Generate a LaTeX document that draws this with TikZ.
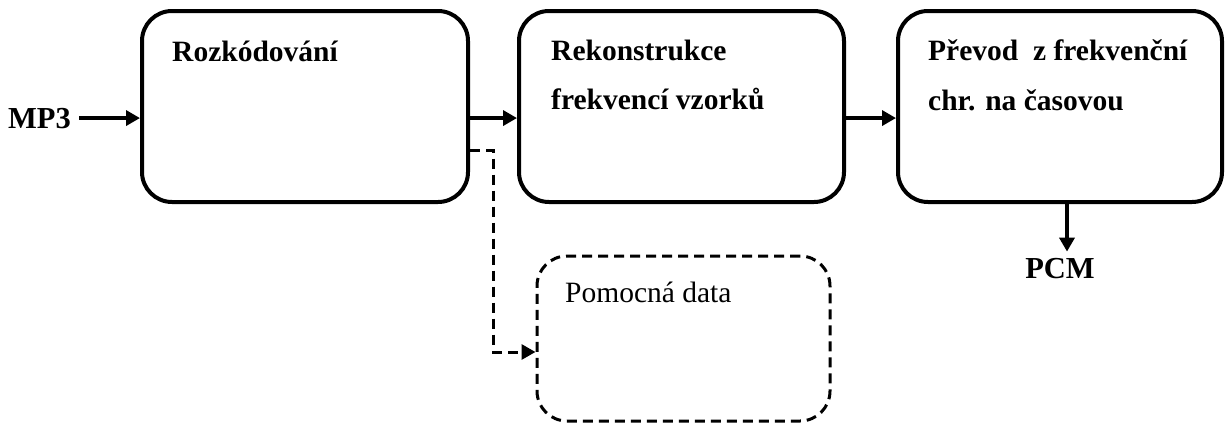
\documentclass[tikz,border=0pt]{standalone}
\usepackage{fontspec}
\setmainfont{Liberation Serif}
\usetikzlibrary{arrows.meta}
\begin{document}
\begin{tikzpicture}[x=1pt,y=-1pt,
  blockbox/.style={draw, line width=4pt, rounded corners=30pt, inner sep=0pt},
  auxbox/.style={draw, line width=3pt, rounded corners=30pt, inner sep=0pt, dash pattern=on 10pt off 6pt},
  txt/.style={anchor=base west, inner sep=0pt, font=\fontsize{29.5}{34}\selectfont\bfseries},
  txtr/.style={anchor=base west, inner sep=0pt, font=\fontsize{29.5}{34}\selectfont},
  iolabel/.style={inner sep=0pt, font=\fontsize{30.5}{34}\selectfont\bfseries},
  arr/.style={line width=3.6pt, -{Triangle[length=14pt,width=15pt]}},
  darr/.style={line width=3pt, dash pattern=on 10pt off 6pt, -{Triangle[length=14pt,width=15pt]}}
]
\useasboundingbox (0,0) rectangle (1226,423);
\node[blockbox, minimum width=326pt, minimum height=191pt] (b1) at (305,106.5) {};
\node[blockbox, minimum width=325pt, minimum height=191pt] (b2) at (681.5,106.5) {};
\node[blockbox, minimum width=324pt, minimum height=191pt] (b3) at (1060,106.5) {};
\node[auxbox, minimum width=293pt, minimum height=165pt] (aux) at (683.5,338.5) {};

\node[txt] (t1) at (172,61) {Rozkódování};
\node[txt] (t2a) at (551,60) {Rekonstrukce};
\node[txt] (t2b) at (551,109) {frekvencí vzorků};
\node[txt] (t3a) at (928,60) {Převod\ \ z frekvenční};
\node[txt] (t3b) at (928,110) {chr. na časovou};
\node[txtr] (t4) at (565,302) {Pomocná data};

\node[iolabel, anchor=base west] (mp3) at (8,128) {MP3};
\node[iolabel, anchor=base, inner sep=6pt] (pcm) at (1060,278) {PCM};

\draw[arr] ([xshift=8pt]mp3.east) -- (b1.west |- mp3.east);
\draw[arr] (b1.east |- mp3.east) -- (b2.west |- mp3.east);
\draw[arr] (b2.east |- mp3.east) -- (b3.west |- mp3.east);
\draw[arr] ([xshift=7pt]b3.south) -- ([xshift=7pt]b3.south |- pcm.north);
\draw[darr] ([yshift=-43.5pt]b1.east) -| ([xshift=-42pt,yshift=-13.5pt]aux.west) -- ([yshift=-13.5pt]aux.west);
\end{tikzpicture}
\end{document}
